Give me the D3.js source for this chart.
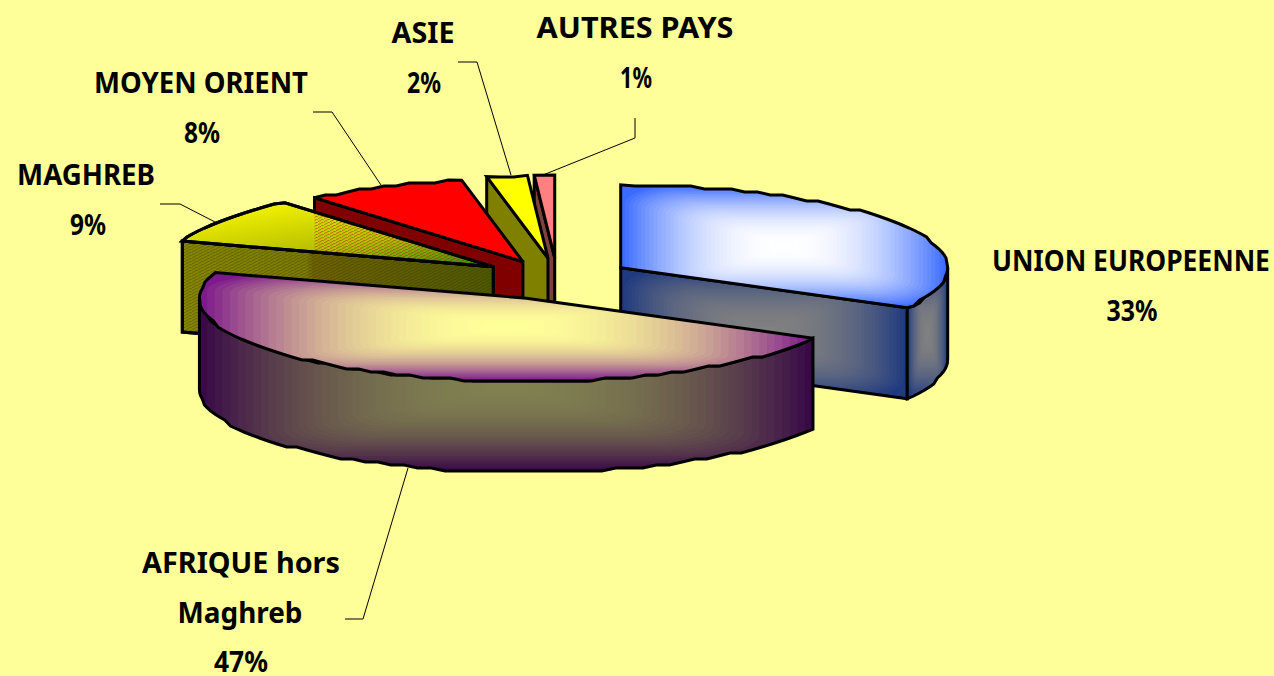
<!DOCTYPE html>
<html>
<head>
<meta charset="utf-8">
<script src="https://cdn.jsdelivr.net/npm/d3@7"></script>
<style>
  html, body { margin: 0; padding: 0; background: #ffff99; overflow: hidden; }
  text { font-family: "Noto Sans", sans-serif; font-weight: 700; fill: #000; }
</style>
</head>
<body>
<svg width="1274" height="676"></svg>
<script>
const categories = ["UNION EUROPEENNE", "AFRIQUE hors Maghreb", "MAGHREB", "MOYEN ORIENT", "ASIE", "AUTRES PAYS"];
const values = [33, 47, 9, 8, 2, 1];
const topColors = ["#3a6bff", "#7d1a8c", "#e8e800", "#ff0000", "#ffff00", "#ff8080"];
const topCenters = ["#ffffff", "#ffff99", null, null, null, null];
const sideColors = ["#1f3a80", "#3a0a48", "#808000", "#800000", "#808000", "#804040"];
const sideCenters = ["#808080", "#808050", null, null, null, null];
const drawOrder = [5, 4, 3, 2, 0, 1]; // back to front

// how far each slice is pulled out of the pie
const explodeXs = [74, 77, 77, 80, 72, 72];
const explodeYs = [20, 22, 20, 18, 20, 20];

// label lines: [text, x centre, baseline, width]
const labels = [
  ["UNION EUROPEENNE", 1131, 271, 278], ["33%", 1132, 321, 51],
  ["AFRIQUE hors", 241, 573, 198], ["Maghreb", 240, 623, 125], ["47%", 241, 672, 54],
  ["MAGHREB", 86, 185, 138], ["9%", 88, 235, 36],
  ["MOYEN ORIENT", 201, 93, 214], ["8%", 202, 143, 36],
  ["ASIE", 423, 43, 63], ["2%", 424, 93, 34],
  ["AUTRES PAYS", 635, 38, 197], ["1%", 636, 88, 32]
];
const leaders = [
  [[313, 112], [332, 112], [381, 185]],
  [[458, 62], [477, 62], [511, 175]],
  [[635, 118], [635, 138], [543, 175]],
  [[160, 204], [180, 204], [215, 222]],
  [[345, 619], [363, 619], [408, 468]]
];

const svg = d3.select("svg");
const defs = svg.append("defs");

svg.append("rect").attr("width", 1274).attr("height", 676).attr("fill", "#ffff99");

const rx = 327, ry = 83, depth = 91;
const cx = 557, cy = 278;
const rad = Math.PI / 180;

const pie = d3.pie().sort(null).startAngle(0).endAngle(2 * Math.PI);
const arcs = pie(values);

const line = d3.line();

function centerOf(d) {
  const m = (d.startAngle + d.endAngle) / 2;
  return [cx + explodeXs[d.index] * Math.sin(m), cy - explodeYs[d.index] * Math.cos(m)];
}
function rim(c, a, dy) {
  return [c[0] + rx * Math.sin(a), c[1] - ry * Math.cos(a) + (dy || 0)];
}
// the outline in the source is a coarse polygon, so snap the rim a little
function rimPts(c, a0, a1, dy) {
  const step = 2.5 * rad;
  const n = Math.max(1, Math.round((a1 - a0) / step));
  return d3.range(n + 1).map(i => {
    const a = a0 + (a1 - a0) * i / n;
    const p = rim(c, a, dy);
    if (i === 0 || i === n) return p;
    return [p[0], Math.round(p[1] / 3) * 3];
  });
}

let clipId = 0;
function bandFill(g, pts, edge, center) {
  const id = "clip" + clipId++;
  defs.append("clipPath").attr("id", id).append("path").attr("d", line(pts) + "Z");
  const xs = d3.extent(pts, p => p[0]), ys = d3.extent(pts, p => p[1]);
  const mx = (xs[0] + xs[1]) / 2, my = (ys[0] + ys[1]) / 2;
  const hw = (xs[1] - xs[0]) / 2, hh = (ys[1] - ys[0]) / 2;
  const color = d3.interpolateRgb(edge, center);
  const count = 40;
  const size = b => 1 - b / count;
  const cg = g.append("g").attr("clip-path", `url(#${id})`);
  cg.append("rect").attr("x", xs[0]).attr("y", ys[0])
    .attr("width", 2 * hw).attr("height", 2 * hh).attr("fill", edge);
  // wide bright plateau in the middle, as in the source
  cg.selectAll("rect.band").data(d3.range(count)).enter().append("rect")
    .attr("class", "band")
    .attr("x", b => mx - hw * size(b))
    .attr("y", b => my - hh * size(b))
    .attr("width", b => 2 * hw * size(b))
    .attr("height", b => 2 * hh * size(b))
    .attr("rx", b => 0.3 * hw * size(b))
    .attr("ry", b => 0.3 * hh * size(b))
    .attr("fill", b => color(1 - Math.pow(size(b), 2.2)));
}
function outline(g, pts, fill) {
  g.append("path").attr("d", line(pts) + "Z")
    .attr("fill", fill || "none")
    .attr("stroke", "#000").attr("stroke-width", 3)
    .attr("stroke-linejoin", "miter").attr("stroke-miterlimit", 3);
}
function wall(c, a) {
  const p = rim(c, a);
  return [c, p, [p[0], p[1] + depth], [c[0], c[1] + depth]];
}

// maghreb has a dithered look in the source
const hatch = defs.append("pattern").attr("id", "hatch")
  .attr("width", 6).attr("height", 3).attr("patternUnits", "userSpaceOnUse");
hatch.append("path").attr("d", "M0 2.5L3 1.5M3 1L6 0").attr("stroke", "#303000")
  .attr("stroke-width", 0.8).attr("opacity", 0.45);
const hatchRed = defs.append("pattern").attr("id", "hatchRed")
  .attr("width", 6).attr("height", 3).attr("patternUnits", "userSpaceOnUse");
hatchRed.append("path").attr("d", "M0 2.5L3 1.5M3 1L6 0").attr("stroke", "#a02000")
  .attr("stroke-width", 1).attr("opacity", 0.55);

const topGrad = defs.append("linearGradient").attr("id", "maghrebTop")
  .attr("x1", 0.25).attr("y1", 0).attr("x2", 1).attr("y2", 1);
topGrad.append("stop").attr("offset", 0).attr("stop-color", "#f4f400");
topGrad.append("stop").attr("offset", 0.55).attr("stop-color", "#b8c000");
topGrad.append("stop").attr("offset", 1).attr("stop-color", "#2f8c00");
const sideGrad = defs.append("linearGradient").attr("id", "maghrebSide")
  .attr("x1", 0).attr("y1", 0).attr("x2", 1).attr("y2", 0);
sideGrad.append("stop").attr("offset", 0).attr("stop-color", "#868600");
sideGrad.append("stop").attr("offset", 0.4).attr("stop-color", "#7a7a00");
sideGrad.append("stop").attr("offset", 0.42).attr("stop-color", "#6e6200");
sideGrad.append("stop").attr("offset", 1).attr("stop-color", "#4e5800");

const pieG = svg.append("g");

drawOrder.forEach(i => {
  const d = arcs[i];
  const a0 = d.startAngle, a1 = d.endAngle;
  const c = centerOf(d);
  const g = pieG.append("g").attr("class", "slice");
  const gradient = topCenters[i] !== null;
  const isMaghreb = categories[i] === "MAGHREB";

  // cut faces
  const walls = [];
  if (Math.sin(a0) < -1e-6) walls.push(wall(c, a0));
  if (Math.sin(a1) > 1e-6) walls.push(wall(c, a1));
  walls.forEach(w => {
    if (gradient) {
      bandFill(g, w, sideColors[i], sideCenters[i]);
      outline(g, w);
    } else if (isMaghreb) {
      outline(g, w, "url(#maghrebSide)");
      g.append("path").attr("d", line(w) + "Z").attr("fill", "url(#hatch)");
      outline(g, w);
    } else {
      outline(g, w, sideColors[i]);
    }
  });

  // outer rim, only the part turned to the viewer
  const f0 = Math.max(a0, 90 * rad), f1 = Math.min(a1, 270 * rad);
  if (f1 > f0) {
    const upper = rimPts(c, f0, f1);
    const lower = rimPts(c, f0, f1, depth).reverse();
    const rimFace = upper.concat(lower);
    bandFill(g, rimFace, sideColors[i], sideCenters[i]);
    outline(g, rimFace);
  }

  // top face
  const topFace = [c].concat(rimPts(c, a0, a1));
  if (gradient) {
    bandFill(g, topFace, topColors[i], topCenters[i]);
    outline(g, topFace);
  } else if (isMaghreb) {
    outline(g, topFace, "url(#maghrebTop)");
    g.append("path").attr("d", line(topFace) + "Z").attr("fill", "url(#hatchRed)")
      .attr("clip-path", "url(#rightOfCorner)");
    outline(g, topFace);
  } else {
    outline(g, topFace, topColors[i]);
  }
});

// dithering only shows where maghreb crosses the next slice
const moyen = arcs[categories.indexOf("MOYEN ORIENT")];
defs.append("clipPath").attr("id", "rightOfCorner").append("rect")
  .attr("x", rim(centerOf(moyen), moyen.startAngle)[0]).attr("y", 0)
  .attr("width", 1274).attr("height", 676);

svg.append("g").selectAll("path").data(leaders).enter().append("path")
  .attr("d", d => line(d))
  .attr("fill", "none").attr("stroke", "#000").attr("stroke-width", 1);

// squeeze each line to the width it has in the source
svg.append("g").selectAll("text").data(labels).enter().append("text")
  .attr("text-anchor", "middle")
  .attr("font-size", 28)
  .text(d => d[0])
  .attr("transform", function(d) {
    const sx = d[3] / this.getComputedTextLength();
    return `translate(${d[1]},${d[2]}) scale(${sx},1)`;
  });
</script>
</body>
</html>
